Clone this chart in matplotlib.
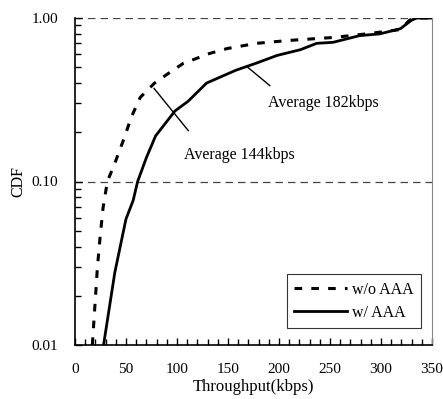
import matplotlib.pyplot as plt
from matplotlib.ticker import FixedLocator, MultipleLocator, NullFormatter

plt.rcParams['font.family'] = ['Liberation Serif', 'DejaVu Serif']
plt.rcParams['font.size'] = 11

# w/o AAA (dashed)
x_wo = [17, 22, 24.5, 27.5, 31.7, 39, 49, 55, 64, 78, 93, 106, 132, 149, 178,
        211, 253, 286, 319, 328, 335, 350]
y_wo = [0.01, 0.030, 0.045, 0.069, 0.10, 0.129, 0.19, 0.246, 0.327, 0.40,
        0.465, 0.527, 0.607, 0.65, 0.70, 0.73, 0.76, 0.80, 0.85, 0.97, 1.0, 1.0]

# w/ AAA (solid)
x_w = [28, 39, 50, 57, 61.4, 70, 79, 98, 111, 129, 158, 178, 198, 221, 237,
       253, 279, 299, 319, 330, 335, 350]
y_w = [0.01, 0.0277, 0.059, 0.0765, 0.10, 0.14, 0.19, 0.27, 0.31, 0.40, 0.48,
       0.53, 0.59, 0.64, 0.70, 0.71, 0.78, 0.80, 0.86, 0.97, 1.0, 1.0]

y_ticks = [0.01, 0.10, 1.00]
y_labels = ["0.01", "0.10", "1.00"]

fig = plt.figure(figsize=(4.43, 3.99), dpi=100)
ax = fig.add_axes([75 / 443, 54 / 399, 357 / 443, 327 / 399])

ax.plot(x_wo, y_wo, color='black', linewidth=2.2, linestyle=(0, (2.5, 3)),
        label='w/o AAA')
ax.plot(x_w, y_w, color='black', linewidth=2, label='w/ AAA')

ax.set_yscale('log')
ax.set_ylim(0.01, 1.0)
ax.set_xlim(0, 350)
ax.set_yticks(y_ticks)
ax.set_yticklabels(y_labels)
ax.yaxis.set_minor_locator(FixedLocator([m * d for d in (0.01, 0.1) for m in range(2, 10)]))
ax.yaxis.set_minor_formatter(NullFormatter())
ax.xaxis.set_major_locator(MultipleLocator(50))
ax.xaxis.set_minor_locator(MultipleLocator(10))

ax.tick_params(which='both', direction='in', top=False, right=False)
ax.tick_params(which='major', length=5, width=1)
ax.tick_params(which='minor', length=4, width=1)
ax.tick_params(axis='y', which='major', pad=12)
ax.tick_params(axis='x', which='major', pad=13)

for yv in (0.1, 1.0):
    ax.axhline(yv, color='#444444', linewidth=0.9, linestyle=(0, (6, 4)), zorder=0)

ax.spines['top'].set_visible(False)
ax.spines['right'].set_color('#888888')
ax.spines['right'].set_linewidth(0.8)
ax.spines['left'].set_linewidth(1.2)
ax.spines['bottom'].set_linewidth(1.2)

ax.set_xlabel('Throughput(kbps)', fontsize=12, labelpad=2)
ax.set_ylabel('CDF', fontsize=11.5, labelpad=4)

# annotation leader lines
ax.plot([169.6, 191], [0.498, 0.386], color='black', linewidth=1)
ax.plot([77.5, 111], [0.371, 0.205], color='black', linewidth=1)
ax.text(189, 0.284, 'Average 182kbps', fontsize=11.5)
ax.text(107, 0.138, 'Average 144kbps', fontsize=11.5)

leg = ax.legend(loc='lower right', bbox_to_anchor=(0.969, 0.052), handlelength=3.3,
                handletextpad=0.35, frameon=True, fancybox=False, edgecolor='black',
                borderpad=0.45, labelspacing=0.45, fontsize=11.5, borderaxespad=0)
leg.get_frame().set_linewidth(0.8)

fig.savefig('out.png', dpi=100)
